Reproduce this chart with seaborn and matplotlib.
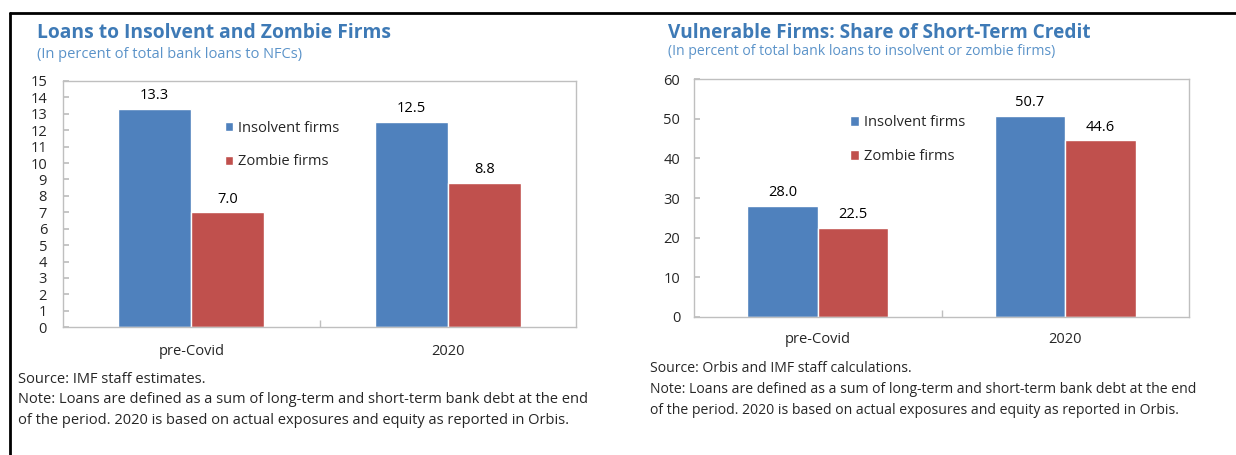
import matplotlib
matplotlib.use("Agg")
import matplotlib.pyplot as plt
import pandas as pd
import seaborn as sns
from matplotlib.lines import Line2D
from matplotlib.patches import Patch

# ---- data -------------------------------------------------------------
PERIODS = ["pre-Covid", "2020"]
SERIES = ["Insolvent firms", "Zombie firms"]

loans_insolvent = [13.3, 12.5]
loans_zombie = [7.0, 8.8]

short_insolvent = [28.0, 50.7]
short_zombie = [22.5, 44.6]

LEFT_TITLE = "Loans to Insolvent and Zombie Firms"
LEFT_SUB = "(In percent of total bank loans to NFCs)"
LEFT_NOTE = ("Source: IMF staff estimates.\n"
             "Note: Loans are defined as a sum of long-term and short-term bank debt at the end\n"
             "of the period. 2020 is based on actual exposures and equity as reported in Orbis.")

RIGHT_TITLE = "Vulnerable Firms: Share of Short-Term Credit"
RIGHT_SUB = "(In percent of total bank loans to insolvent or zombie firms)"
RIGHT_NOTE = ("Source: Orbis and IMF staff calculations.\n"
              "Note: Loans are defined as a sum of long-term and short-term bank debt at the end\n"
              "of the period. 2020 is based on actual exposures and equity as reported in Orbis.")

BLUE = "#4F81BD"
RED = "#C0504D"
TITLE_COL = "#3E7AB6"
SUB_COL = "#5B93C9"
GRID_COL = "#BFBFBF"

sns.set_theme(style="white")
plt.rcParams["font.family"] = ["Open Sans", "DejaVu Sans"]


def make_frame(a, b):
    return pd.DataFrame({
        "period": PERIODS * 2,
        "series": [SERIES[0]] * len(PERIODS) + [SERIES[1]] * len(PERIODS),
        "value": list(a) + list(b),
    })


def draw_panel(ax, df, ymax, ystep, legend_xy, ypad, xpad):
    sns.barplot(data=df, x="period", y="value", hue="series",
                palette=[BLUE, RED], width=0.57, saturation=1,
                legend=False, ax=ax)
    for cont in ax.containers:
        ax.bar_label(cont, fmt="%.1f", padding=4, fontsize=10.5, color="black")

    ax.set_ylim(0, ymax)
    ax.set_xlim(-0.5, 1.5)
    ax.set_yticks(range(0, ymax + 1, ystep))
    ax.set_xlabel("")
    ax.set_ylabel("")
    ax.set_xticks([0, 1])
    ax.set_xticklabels(PERIODS)
    ax.set_xticks([0.5], minor=True)

    ax.tick_params(axis="y", direction="in", length=4, color=GRID_COL,
                   labelsize=10.5, pad=ypad, left=True)
    ax.tick_params(axis="x", which="major", length=0, labelsize=10.5, pad=xpad)
    ax.tick_params(axis="x", which="minor", direction="in", length=5,
                   color=GRID_COL, bottom=True)

    for s in ax.spines.values():
        s.set_visible(True)
        s.set_color(GRID_COL)
        s.set_linewidth(1.0)

    handles = [Patch(facecolor=BLUE, label=SERIES[0]),
               Patch(facecolor=RED, label=SERIES[1])]
    ax.legend(handles=handles, loc="center left", bbox_to_anchor=legend_xy,
              frameon=False, fontsize=10.5, handlelength=0.6, handleheight=0.6,
              handletextpad=0.35, labelspacing=1.3, borderpad=0, borderaxespad=0)


fig = plt.figure(figsize=(12.36, 4.55), dpi=100)
ax1 = fig.add_axes([0.051, 0.281, 0.415, 0.541])
ax2 = fig.add_axes([0.5615, 0.3033, 0.4005, 0.523])

draw_panel(ax1, make_frame(loans_insolvent, loans_zombie), 15, 1,
           (0.315, 0.74), 11.5, 12)
draw_panel(ax2, make_frame(short_insolvent, short_zombie), 60, 10,
           (0.315, 0.745), 10, 10.5)

fig.text(0.030, 0.928, LEFT_TITLE, fontsize=13.9, fontweight="bold",
         color=TITLE_COL, va="center")
fig.text(0.030, 0.881, LEFT_SUB, fontsize=10.5, color=SUB_COL, va="center")
fig.text(0.5405, 0.928, RIGHT_TITLE, fontsize=13.7, fontweight="bold",
         color=TITLE_COL, va="center")
fig.text(0.5405, 0.886, RIGHT_SUB, fontsize=10.1, color=SUB_COL, va="center")

fig.text(0.0146, 0.182, LEFT_NOTE, fontsize=10.5, va="top", linespacing=1.48)
fig.text(0.526, 0.207, RIGHT_NOTE, fontsize=10.1, va="top", linespacing=1.55)

# black frame lines from the source layout
fig.add_artist(Line2D([10 / 1236, 1.0], [1 - 13 / 455, 1 - 13 / 455],
                      color="black", linewidth=2, transform=fig.transFigure))
fig.add_artist(Line2D([10 / 1236, 10 / 1236], [0.0, 1 - 13 / 455],
                      color="black", linewidth=2, transform=fig.transFigure))

fig.savefig("out.png", dpi=100)
